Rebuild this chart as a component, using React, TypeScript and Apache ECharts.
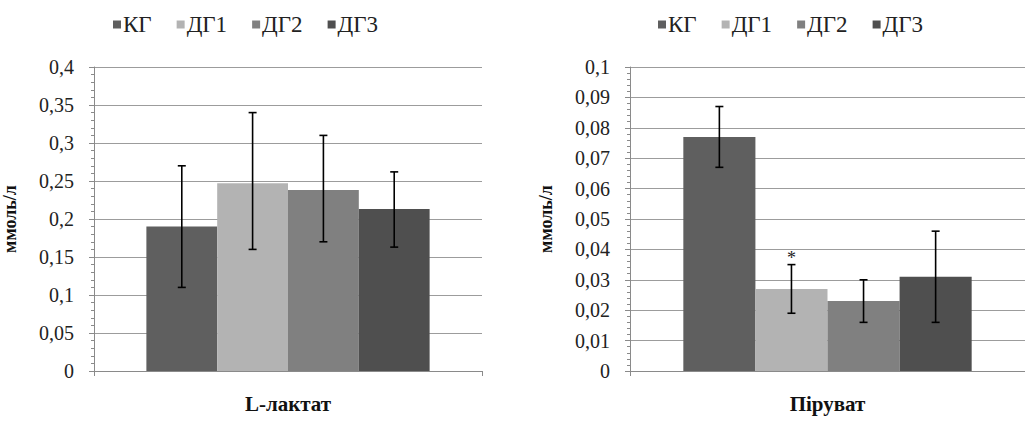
import React, { useEffect, useRef } from "react";
import * as echarts from "echarts";

const seriesNames = ["КГ", "ДГ1", "ДГ2", "ДГ3"];
const seriesColors = ["#5f5f5f", "#b3b3b3", "#808080", "#4f4f4f"];

const lactateCategory = ["L-лактат"];
const lactateValues = [0.19, 0.247, 0.238, 0.213];
const lactateLow = [0.11, 0.16, 0.17, 0.163];
const lactateHigh = [0.27, 0.34, 0.31, 0.262];
const lactateSig = [false, false, false, false];

const pyruvateCategory = ["Піруват"];
const pyruvateValues = [0.077, 0.027, 0.023, 0.031];
const pyruvateLow = [0.067, 0.019, 0.016, 0.016];
const pyruvateHigh = [0.087, 0.035, 0.03, 0.046];
const pyruvateSig = [false, true, false, false];

const yAxisName = "ммоль/л";
const FONT = "'Liberation Serif', 'Times New Roman', serif";
const GAP = 0.27;

function fmt(v: number) {
  return String(+v.toFixed(4)).replace(".", ",");
}

function errorSeries(idx: number, low: number[], high: number[], sig: boolean[]) {
  return {
    type: "custom",
    xAxisIndex: idx,
    yAxisIndex: idx,
    silent: true,
    z: 10,
    encode: { x: 0, y: [1, 2] },
    data: low.map((l, i) => [0, l, high[i], i, sig[i] ? 1 : 0]),
    renderItem: (params: any, api: any) => {
      const i = api.value(3);
      const band = api.size([1, 0])[0];
      const bw = (band * (1 - GAP)) / 4;
      const c = api.coord([0, api.value(1)]);
      const t = api.coord([0, api.value(2)]);
      const x = c[0] - 2 * bw + (i + 0.5) * bw;
      const yl = c[1];
      const yh = t[1];
      const cap = 4;
      const st = { stroke: "#000", lineWidth: 1.6 };
      const children: any[] = [
        { type: "line", shape: { x1: x, y1: yl, x2: x, y2: yh }, style: st },
        { type: "line", shape: { x1: x - cap, y1: yl, x2: x + cap, y2: yl }, style: st },
        { type: "line", shape: { x1: x - cap, y1: yh, x2: x + cap, y2: yh }, style: st },
      ];
      if (api.value(4) === 1) {
        children.push({
          type: "text",
          style: {
            text: "*",
            x: x,
            y: yh + 2,
            align: "center",
            verticalAlign: "bottom",
            fontSize: 18,
            fontFamily: FONT,
            fill: "#222",
          },
        });
      }
      return { type: "group", children };
    },
  };
}

function yAxis(idx: number, max: number, interval: number) {
  return {
    type: "value",
    gridIndex: idx,
    min: 0,
    max,
    interval,
    name: yAxisName,
    nameLocation: "middle",
    nameGap: 75,
    nameTextStyle: { fontFamily: FONT, fontSize: 18, fontWeight: "bold", color: "#111" },
    axisLine: { show: true, lineStyle: { color: "#8a8a8a", width: 1 } },
    axisTick: { show: true, length: 5, lineStyle: { color: "#8a8a8a" } },
    minorTick: { show: true, splitNumber: 5, length: 3, lineStyle: { color: "#8a8a8a" } },
    splitLine: { show: true, lineStyle: { color: "#9c9c9c", width: 1 } },
    axisLabel: {
      fontFamily: FONT,
      fontSize: 20,
      color: "#222",
      margin: 20,
      formatter: (v: number) => fmt(v),
    },
  };
}

function xAxis(idx: number, cats: string[]) {
  return {
    type: "category",
    gridIndex: idx,
    data: cats,
    axisLine: { show: true, lineStyle: { color: "#8a8a8a", width: 1 } },
    axisTick: { show: true, length: 5, alignWithLabel: false, lineStyle: { color: "#8a8a8a" } },
    splitLine: { show: false },
    axisLabel: {
      fontFamily: FONT,
      fontSize: 21,
      fontWeight: "bold",
      color: "#111",
      margin: 22,
    },
  };
}

export default function App() {
  const ref = useRef<HTMLDivElement>(null);
  useEffect(() => {
    if (!ref.current) return;
    const chart = echarts.init(ref.current, undefined, { renderer: "svg" });
    const barSeries: any[] = [];
    seriesNames.forEach((n, i) => {
      barSeries.push({
        type: "bar",
        name: n,
        xAxisIndex: 0,
        yAxisIndex: 0,
        data: [lactateValues[i]],
        barGap: "0%",
        barCategoryGap: "27%",
        itemStyle: { color: seriesColors[i] },
      });
    });
    seriesNames.forEach((n, i) => {
      barSeries.push({
        type: "bar",
        name: n,
        xAxisIndex: 1,
        yAxisIndex: 1,
        data: [pyruvateValues[i]],
        barGap: "0%",
        barCategoryGap: "27%",
        itemStyle: { color: seriesColors[i] },
      });
    });
    const legendCommon = {
      data: seriesNames,
      icon: "rect",
      itemWidth: 8,
      itemHeight: 8,
      itemGap: 25,
      top: 8,
      selectedMode: false,
      textStyle: { fontFamily: FONT, fontSize: 23, color: "#222", padding: [0, 0, 0, -3] },
    };
    chart.setOption({
      animation: false,
      backgroundColor: "#ffffff",
      legend: [
        { ...legendCommon, left: 108 },
        { ...legendCommon, left: 653 },
      ],
      grid: [
        { left: 92, top: 67, width: 390, height: 304 },
        { left: 630, top: 67, width: 404, height: 304 },
      ],
      xAxis: [xAxis(0, lactateCategory), xAxis(1, pyruvateCategory)],
      yAxis: [yAxis(0, 0.4, 0.05), yAxis(1, 0.1, 0.01)],
      series: [
        ...barSeries,
        errorSeries(0, lactateLow, lactateHigh, lactateSig),
        errorSeries(1, pyruvateLow, pyruvateHigh, pyruvateSig),
      ],
    });
    return () => chart.dispose();
  }, []);
  return (
    <div
      ref={ref}
      style={{ position: "absolute", left: 0, top: 0, width: 1025, height: 421, background: "#fff" }}
    />
  );
}
